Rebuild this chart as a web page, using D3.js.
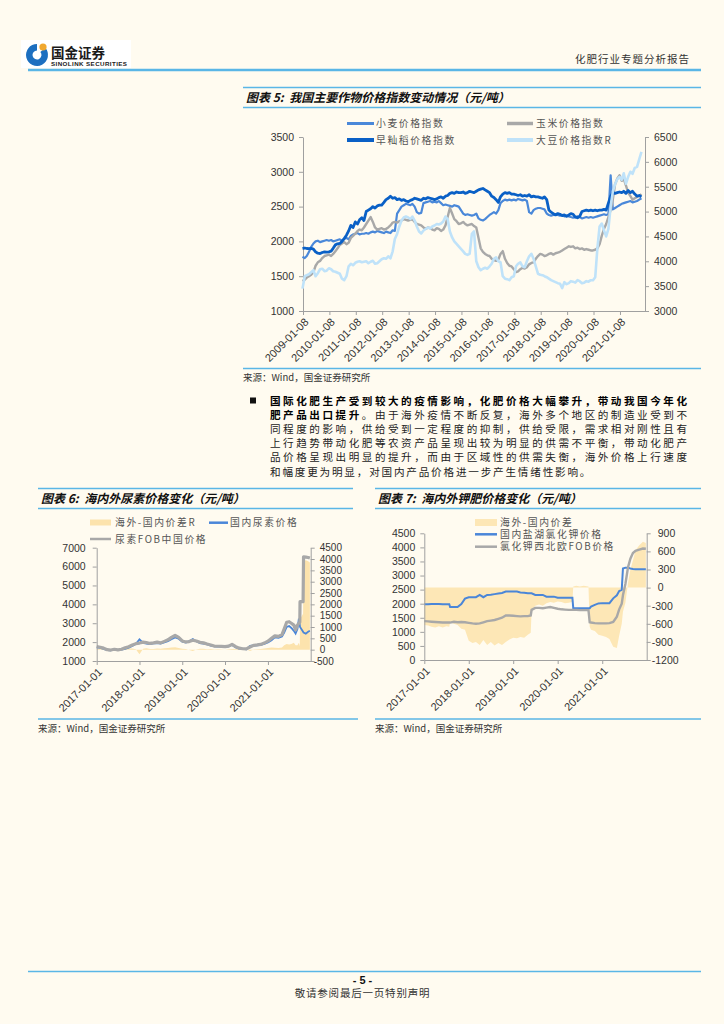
<!DOCTYPE html>
<html lang="zh">
<head>
<meta charset="UTF-8">
<title>化肥行业专题分析报告</title>
<script src="https://cdnjs.cloudflare.com/ajax/libs/d3/7.8.5/d3.min.js"></script>
<style>
  html, body { margin: 0; padding: 0; background: #fffbf0; }
  svg { display: block; }
</style>
</head>
<body>
<svg id="page" width="724" height="1024"></svg>
<script>
// ---------- 图表5：作物价格指数（月度） ----------
var wheat = [
  1780,1760,1790,1850,1920,1970,2000,2010,1990,2000,2010,2020,
  2010,2020,2000,2010,2020,2030,2010,2040,2050,2030,2080,2100,
  2110,2120,2100,2110,2110,2120,2110,2130,2140,2130,2150,2140,
  2130,2120,2140,2130,2120,2160,2150,2400,2450,2500,2520,2540,
  2530,2520,2540,2500,2420,2400,2410,2550,2560,2570,2580,2560,
  2570,2560,2580,2550,2520,2530,2520,2510,2500,2520,2510,2500,
  2450,2400,2380,2390,2380,2370,2380,2400,2330,2310,2300,2320,
  2350,2380,2400,2420,2400,2450,2550,2580,2600,2590,2600,2590,
  2600,2590,2610,2600,2590,2600,2580,2420,2400,2450,2470,2480,
  2480,2470,2460,2400,2380,2370,2380,2390,2380,2370,2380,2360,
  2370,2360,2350,2340,2350,2360,2350,2330,2340,2350,2340,2350,
  2340,2350,2360,2370,2380,2390,2380,2390,2950,2460,2480,2500,
  2520,2540,2550,2560,2570,2580,2560,2570,2580,2600,2620
];
var corn = [
  1430,1450,1480,1500,1520,1560,1650,1700,1720,1760,1790,1800,
  1810,1790,1820,1860,1900,1950,1970,1990,1960,1980,2050,2080,
  2110,2150,2170,2160,2200,2250,2300,2350,2280,2200,2170,2180,
  2190,2170,2180,2200,2230,2270,2280,2270,2290,2300,2320,2310,
  2300,2310,2320,2280,2250,2240,2230,2200,2180,2200,2190,2170,
  2160,2190,2180,2150,2170,2230,2350,2480,2400,2320,2290,2250,
  2260,2280,2250,2230,2240,2250,2220,2200,2050,1900,1850,1820,
  1800,1790,1750,1730,1720,1740,1820,1860,1750,1690,1650,1640,
  1600,1560,1570,1600,1620,1610,1630,1670,1690,1700,1750,1790,
  1820,1810,1790,1800,1820,1830,1810,1830,1840,1850,1870,1890,
  1910,1930,1920,1930,1900,1910,1890,1900,1880,1890,1880,1870,
  1870,1880,1900,1960,2080,2180,2250,2350,2450,2600,2820,2900,
  2950,2870,2900,2800,2700,2650,2600,2620,2640,2650,2680
];
var rice = [
  1900,1905,1898,1895,1900,1890,1850,1830,1825,1840,1850,1845,
  1850,1860,1900,1950,1965,1970,2000,2040,2090,2150,2230,2200,
  2280,2250,2310,2340,2300,2430,2450,2470,2500,2480,2510,2520,
  2520,2560,2600,2620,2650,2620,2630,2600,2610,2590,2600,2580,
  2570,2590,2600,2620,2610,2600,2590,2620,2610,2630,2620,2610,
  2600,2610,2630,2640,2620,2650,2660,2690,2700,2690,2710,2700,
  2700,2710,2690,2700,2720,2710,2700,2720,2740,2750,2760,2740,
  2720,2700,2650,2630,2600,2560,2640,2680,2700,2690,2700,2680,
  2680,2670,2660,2670,2650,2660,2650,2670,2640,2650,2640,2640,
  2630,2620,2640,2600,2450,2420,2400,2380,2400,2390,2370,2380,
  2360,2380,2400,2390,2350,2340,2360,2430,2440,2450,2440,2450,
  2440,2450,2440,2450,2450,2460,2450,2550,2650,2700,2690,2700,
  2710,2700,2720,2690,2730,2700,2720,2680,2650,2660,2640
];
var soybean = [
  3450,3700,3720,3740,3780,3820,3700,3760,3840,3850,3800,3810,
  3860,3840,3800,3790,3770,3750,3650,3620,3700,3900,3950,3920,
  3970,3990,4000,3980,3990,4000,3960,3990,4010,3950,3960,4000,
  4040,4060,4050,4100,4060,4200,4450,4550,4700,4820,4880,4900,
  4880,4850,4900,4820,4700,4600,4560,4620,4650,4680,4660,4700,
  4720,4750,4740,4760,4800,4900,4850,4600,4480,4400,4350,4300,
  4250,4200,4150,4130,4150,4550,4600,4000,3880,3820,3850,3870,
  3850,3900,3950,4050,4080,4000,3980,3700,3650,3640,3620,3680,
  3700,3900,3950,3980,3900,3880,4000,4100,4150,4050,3900,3750,
  3730,3720,3700,3680,3650,3620,3600,3580,3560,3550,3460,3580,
  3540,3560,3600,3590,3570,3620,3600,3560,3570,3600,3590,3620,
  3620,3680,4250,4700,4760,4620,4500,4650,5100,5400,5550,5650,
  5700,5640,5770,5560,5700,5800,5760,5880,5900,6050,6200
];
var months5 = d3.timeMonth.range(new Date(2009, 0, 1), new Date(2021, 11, 1));
var ticks5 = ["2009-01-08","2010-01-08","2011-01-08","2012-01-08","2013-01-08","2014-01-08",
  "2015-01-08","2016-01-08","2017-01-08","2018-01-08","2019-01-08","2020-01-08","2021-01-08"];

// ---------- 图表6：尿素 ----------
var dates6 = [
  "2017-01-01","2017-02-01","2017-03-01","2017-04-01","2017-05-01","2017-06-01","2017-07-01","2017-08-01","2017-09-01","2017-10-01","2017-11-01","2017-12-01",
  "2018-01-01","2018-02-01","2018-03-01","2018-04-01","2018-05-01","2018-06-01","2018-07-01","2018-08-01","2018-09-01","2018-10-01","2018-11-01","2018-12-01",
  "2019-01-01","2019-02-01","2019-03-01","2019-04-01","2019-05-01","2019-06-01","2019-07-01","2019-08-01","2019-09-01","2019-10-01","2019-11-01","2019-12-01",
  "2020-01-01","2020-02-01","2020-03-01","2020-04-01","2020-05-01","2020-06-01","2020-07-01","2020-08-01","2020-09-01","2020-10-01","2020-11-01","2020-12-01",
  "2021-01-01","2021-02-01","2021-03-01","2021-04-01","2021-05-01","2021-05-20","2021-06-10","2021-07-01","2021-07-20","2021-08-10","2021-08-25",
  "2021-09-10","2021-09-22","2021-09-30","2021-10-02","2021-10-28","2021-11-01","2021-11-20","2021-12-10","2021-12-25"
];
var ureaDomestic = [
  1720,1700,1640,1580,1560,1600,1580,1600,1640,1700,1800,1900,
  2150,1960,1920,1900,1930,1950,1920,1980,2050,2150,2250,2180,
  2020,1980,2050,2160,2050,1950,1920,1880,1820,1780,1760,1760,
  1760,1770,1850,1720,1650,1640,1620,1800,1820,1830,1850,1900,
  1980,2100,2250,2230,2300,2500,2800,2850,2750,2600,2450,
  2700,3250,2900,2800,2550,2500,2450,2550,2600
];
var ureaFob = [
  1760,1730,1680,1600,1580,1620,1590,1620,1700,1760,1850,1920,
  1950,2000,1980,1930,1960,2000,1960,2040,2120,2250,2360,2250,
  2060,2010,2030,2100,2060,1990,1960,1900,1850,1790,1780,1770,
  1760,1790,1880,1760,1680,1650,1640,1740,1830,1850,1880,1950,
  2050,2200,2330,2300,2400,2700,3050,3080,3000,2900,2650,
  2900,3000,3050,4140,4140,6520,6500,6480,6450
];
var ureaSpread = [
  40,30,40,20,20,20,10,20,60,60,50,20,
  -200,40,60,30,30,50,40,60,70,100,110,70,
  40,30,-20,-60,10,40,40,20,30,10,20,10,
  0,20,30,40,30,10,20,-60,10,20,30,50,
  70,100,80,70,100,200,250,230,250,300,200,
  200,300,150,1340,1590,3900,3950,3900,3850
];

// ---------- 图表7：钾肥 ----------
var dates7 = [
  "2017-01-01","2017-02-01","2017-03-01","2017-04-01","2017-05-01","2017-06-01","2017-07-01","2017-07-25","2017-08-01","2017-09-01","2017-10-01","2017-11-01","2017-12-01",
  "2018-01-01","2018-02-01","2018-03-01","2018-04-01","2018-05-01","2018-06-01","2018-07-01","2018-08-01","2018-09-01","2018-10-01","2018-11-01","2018-12-01",
  "2019-01-01","2019-02-01","2019-03-01","2019-04-01","2019-05-01","2019-05-25","2019-06-01","2019-07-01","2019-08-01","2019-09-01","2019-10-01","2019-11-01","2019-12-01",
  "2020-01-01","2020-02-01","2020-03-01","2020-04-01","2020-05-01","2020-05-08","2020-06-01","2020-07-01","2020-08-01","2020-09-10","2020-09-20","2020-10-01","2020-11-01","2020-12-01",
  "2021-01-01","2021-02-01","2021-03-01","2021-04-01","2021-05-01","2021-05-20","2021-06-10","2021-06-20","2021-07-10","2021-08-01","2021-08-20","2021-09-10","2021-10-01","2021-11-01","2021-12-01","2021-12-25"
];
var potashDomestic = [
  1980,1980,1990,1990,1990,1980,1980,1980,1880,1880,1880,1990,2180,
  2230,2230,2230,2310,2230,2310,2320,2340,2360,2380,2430,2430,
  2430,2430,2400,2390,2370,2370,2370,2310,2310,2310,2250,2250,2250,
  2210,2210,2210,2210,2210,1840,1840,1840,1840,1840,1840,1900,1960,2010,
  2020,2020,2020,2190,2300,2450,2490,3250,3280,3280,3250,3230,3220,3220,3220,3220
];
var potashFob = [
  1380,1370,1360,1350,1340,1330,1330,1330,1330,1360,1340,1350,1340,
  1320,1300,1290,1300,1340,1380,1400,1420,1460,1500,1580,1580,
  1570,1560,1550,1560,1560,1580,1780,1850,1850,1840,1860,1880,1850,
  1820,1800,1790,1780,1780,1780,1780,1770,1770,1770,1340,1330,1310,1300,
  1300,1300,1310,1350,1540,1800,2000,2300,2700,3300,3600,3800,3880,3920,3960,3950
];
var potashSpread = [
  -620,-630,-650,-660,-640,-660,-640,-650,-580,-600,-620,-680,-700,
  -880,-920,-900,-950,-870,-950,-900,-960,-920,-950,-900,-860,
  -830,-840,-820,-830,-780,-750,-380,-300,-280,-300,-260,-240,-250,
  -230,-240,-260,-250,-240,20,30,20,30,20,-650,-700,-720,-780,
  -800,-820,-850,-980,-1000,-800,-600,-400,-250,80,300,450,620,700,760,740
];

var CN = '"Noto Sans CJK SC", "Noto Sans CJK JP", sans-serif';
var NUM = '"Liberation Sans", Arial, sans-serif';
var AXIS = '#a0a0a0';
var TXT = '#333';
var BLUE_LINE = '#5ab6e6';
var parse = d3.timeParse('%Y-%m-%d');

var svg = d3.select('#page');

// ---------- 页眉 ----------
svg.append('rect').attr('x', 21).attr('y', 40).attr('width', 110).attr('height', 28).attr('fill', '#fff');
var logo = svg.append('g').attr('transform', 'translate(37,55)');
logo.append('path')
  .attr('d', d3.arc()({innerRadius: 4.5, outerRadius: 11, startAngle: 0.85, endAngle: 2 * Math.PI}))
  .attr('fill', '#1c6fc0');
logo.append('circle').attr('cx', 6).attr('cy', -8).attr('r', 3.6).attr('fill', '#f0a830');
svg.append('text').attr('x', 51).attr('y', 58).text('国金证券')
  .attr('font-family', CN).attr('font-weight', 'bold').attr('font-size', 13.5).attr('fill', '#1a1a1a');
svg.append('text').attr('x', 51).attr('y', 66).text('SINOLINK SECURITIES')
  .attr('font-family', NUM).attr('font-weight', 'bold').attr('font-size', 6.2)
  .attr('textLength', 76).attr('fill', '#1a1a1a');
svg.append('text').attr('x', 690).attr('y', 63).attr('text-anchor', 'end').text('化肥行业专题分析报告')
  .attr('font-family', CN).attr('font-size', 10.5).attr('letter-spacing', 1).attr('fill', TXT);
svg.append('line').attr('x1', 28).attr('x2', 701).attr('y1', 70).attr('y2', 70)
  .attr('stroke', BLUE_LINE).attr('stroke-width', 2.5);

function titleBlock(x1, x2, yTop, label) {
  svg.append('line').attr('x1', x1).attr('x2', x2).attr('y1', yTop).attr('y2', yTop)
    .attr('stroke', BLUE_LINE).attr('stroke-width', 1.5);
  svg.append('line').attr('x1', x1).attr('x2', x2).attr('y1', yTop + 20).attr('y2', yTop + 20)
    .attr('stroke', BLUE_LINE).attr('stroke-width', 1.5);
  svg.append('text').attr('x', x1 + 3).attr('y', yTop + 14).text(label)
    .attr('font-family', CN).attr('font-weight', 'bold').attr('font-style', 'italic')
    .attr('font-size', 12).attr('fill', '#111').attr('xml:space', 'preserve');
}
function sourceBlock(x1, x2, y) {
  svg.append('line').attr('x1', x1).attr('x2', x2).attr('y1', y).attr('y2', y)
    .attr('stroke', BLUE_LINE).attr('stroke-width', 1.5);
  svg.append('text').attr('x', x1).attr('y', y + 12.5).text('来源：Wind，国金证券研究所')
    .attr('font-family', CN).attr('font-size', 9.5).attr('fill', TXT);
}
function styleAxis(g, fs) {
  g.attr('font-family', NUM).attr('font-size', fs);
  g.select('.domain').attr('stroke', AXIS);
  g.selectAll('.tick line').attr('stroke', AXIS);
  g.selectAll('.tick text').attr('fill', TXT);
}
function leftAxis(scale, x, ticks, size, pad, fs) {
  var g = svg.append('g').attr('transform', 'translate(' + x + ',0)')
    .call(d3.axisLeft(scale).tickValues(ticks).tickSize(size).tickPadding(pad).tickSizeOuter(0)
      .tickFormat(function (d) { return String(d); }));
  styleAxis(g, fs);
}
function rightAxis(scale, x, ticks, size, pad, fs, minusShift) {
  var g = svg.append('g').attr('transform', 'translate(' + x + ',0)')
    .call(d3.axisRight(scale).tickValues(ticks).tickSize(size).tickPadding(pad).tickSizeOuter(0)
      .tickFormat(function (d) { return String(d); }));
  styleAxis(g, fs);
  g.selectAll('.tick text').attr('x', function (d) { return d < 0 ? size + pad - minusShift : size + pad; });
}
function bottomAxis(scale, y, tickDates, fs) {
  var g = svg.append('g').attr('transform', 'translate(0,' + y + ')')
    .call(d3.axisBottom(scale).tickValues(tickDates).tickSize(4).tickSizeOuter(0)
      .tickFormat(d3.timeFormat('%Y-%m-%d')));
  styleAxis(g, fs);
  g.selectAll('.tick text').attr('y', 0).attr('dy', '0.35em')
    .attr('transform', 'translate(3,9) rotate(-45)').attr('text-anchor', 'end');
}
function legendLine(x1, x2, y, color, w) {
  svg.append('line').attr('x1', x1).attr('x2', x2).attr('y1', y).attr('y2', y)
    .attr('stroke', color).attr('stroke-width', w);
}
function legendText(x, y, t) {
  svg.append('text').attr('x', x).attr('y', y + 3.6).text(t)
    .attr('font-family', CN).attr('font-size', 9.8).attr('letter-spacing', 1.6).attr('fill', '#555');
}

// ================= 图表5 =================
titleBlock(243, 701, 87.5, '图表 5:  我国主要作物价格指数变动情况（元/吨）');
var x5 = d3.scaleTime().domain([parse('2009-01-08'), parse('2021-12-20')]).range([303, 645]);
var yL5 = d3.scaleLinear().domain([1000, 3500]).range([311, 137]);
var yR5 = d3.scaleLinear().domain([3000, 6500]).range([311, 137]);
leftAxis(yL5, 303, d3.range(1000, 3501, 500), 4, 5, 10.5);
rightAxis(yR5, 645, d3.range(3000, 6501, 500), 4, 5, 10.5, 0);
bottomAxis(x5, 311, ticks5.map(parse), 11);

function series5(values, yScale, color, width) {
  var pts = values.map(function (v, i) { return {d: months5[i], v: v}; });
  svg.append('path').datum(pts)
    .attr('d', d3.line().x(function (p) { return x5(p.d); }).y(function (p) { return yScale(p.v); }))
    .attr('fill', 'none').attr('stroke', color).attr('stroke-width', width).attr('stroke-linejoin', 'round');
}
series5(wheat, yL5, '#4a88d9', 2.2);
series5(corn, yL5, '#a8a8a8', 2.4);
series5(rice, yL5, '#0a60c6', 2.8);
series5(soybean, yR5, '#bfe2f9', 2.6);

legendLine(347, 374, 123.5, '#4a88d9', 3);
legendText(376, 123.5, '小麦价格指数');
legendLine(507, 533, 123.5, '#a8a8a8', 3.5);
legendText(536, 123.5, '玉米价格指数');
legendLine(347, 374, 140, '#0a60c6', 4);
legendText(376, 140, '早籼稻价格指数');
legendLine(507, 533, 140, '#bfe2f9', 4);
legendText(536, 140, '大豆价格指数R');

sourceBlock(243, 701, 368.5);

// ================= 正文 =================
svg.append('rect').attr('x', 250).attr('y', 397.5).attr('width', 6).attr('height', 6).attr('fill', '#111');
var para = [
  [['国际化肥生产受到较大的疫情影响，化肥价格大幅攀升，带动我国今年化', true]],
  [['肥产品出口提升', true], ['。由于海外疫情不断反复，海外多个地区的制造业受到不', false]],
  [['同程度的影响，供给受到一定程度的抑制，供给受限，需求相对刚性且有', false]],
  [['上行趋势带动化肥等农资产品呈现出较为明显的供需不平衡，带动化肥产', false]],
  [['品价格呈现出明显的提升，而由于区域性的供需失衡，海外价格上行速度', false]],
  [['和幅度更为明显，对国内产品价格进一步产生情绪性影响。', false]]
];
para.forEach(function (line, i) {
  var t = svg.append('text').attr('x', 270).attr('y', 404.6 + i * 14.2)
    .attr('font-family', CN).attr('font-size', 10.6).attr('fill', '#222');
  if (i < para.length - 1) t.attr('textLength', 417).attr('lengthAdjust', 'spacing');
  else t.attr('letter-spacing', 1.8);
  line.forEach(function (seg) {
    t.append('tspan').text(seg[0]).attr('font-weight', seg[1] ? 'bold' : 'normal')
      .attr('fill', seg[1] ? '#000' : '#222');
  });
});

// ================= 图表6 =================
titleBlock(38, 353, 488.5, '图表 6:  海内外尿素价格变化（元/吨）');
var x6 = d3.scaleTime().domain([parse('2017-01-01'), parse('2022-01-01')]).range([96.7, 310.7]);
var yL6 = d3.scaleLinear().domain([1000, 7000]).range([661, 547.7]);
var yR6 = d3.scaleLinear().domain([-500, 4500]).range([661, 547.7]);
var d6 = dates6.map(function (s, i) {
  return {d: parse(s), dom: ureaDomestic[i], fob: ureaFob[i], spr: ureaSpread[i]};
});
svg.append('path').datum(d6)
  .attr('d', d3.area().x(function (p) { return x6(p.d); }).y0(yR6(0)).y1(function (p) { return yR6(p.spr); }))
  .attr('fill', '#fce3ad');
svg.append('path').datum(d6)
  .attr('d', d3.line().x(function (p) { return x6(p.d); }).y(function (p) { return yL6(p.dom); }))
  .attr('fill', 'none').attr('stroke', '#4a86d8').attr('stroke-width', 1.8);
svg.append('path').datum(d6)
  .attr('d', d3.line().x(function (p) { return x6(p.d); }).y(function (p) { return yL6(p.fob); }))
  .attr('fill', 'none').attr('stroke', '#a8a8a8').attr('stroke-width', 3.2).attr('stroke-linejoin', 'round');
leftAxis(yL6, 96.7, d3.range(1000, 7001, 1000), 4, 7, 10.5);
rightAxis(yR6, 310.7, d3.range(-500, 4501, 500), 4, 5, 10, 6);
bottomAxis(x6, 661, ['2017-01-01', '2018-01-01', '2019-01-01', '2020-01-01', '2021-01-01'].map(parse), 11);

svg.append('rect').attr('x', 90).attr('y', 519.5).attr('width', 21).attr('height', 6).attr('fill', '#fce3ad');
legendText(115, 522.7, '海外-国内价差R');
legendLine(209, 228, 522.7, '#4a86d8', 2.5);
legendText(230, 522.7, '国内尿素价格');
legendLine(90, 111, 539, '#a8a8a8', 2.5);
legendText(115, 539, '尿素FOB中国价格');

sourceBlock(38, 358, 719);

// ================= 图表7 =================
titleBlock(375, 701, 488.5, '图表 7:  海内外钾肥价格变化（元/吨）');
var x7 = d3.scaleTime().domain([parse('2017-01-01'), parse('2022-01-01')]).range([424.3, 646.7]);
var yL7 = d3.scaleLinear().domain([0, 4500]).range([660, 533.3]);
var yR7 = d3.scaleLinear().domain([-1200, 900]).range([660, 533.3]);
var d7 = dates7.map(function (s, i) {
  return {d: parse(s), dom: potashDomestic[i], fob: potashFob[i], spr: potashSpread[i]};
});
svg.append('path').datum(d7)
  .attr('d', d3.area().x(function (p) { return x7(p.d); }).y0(yR7(0)).y1(function (p) { return yR7(p.spr); }))
  .attr('fill', '#fde7b6');
svg.append('path').datum(d7)
  .attr('d', d3.line().x(function (p) { return x7(p.d); }).y(function (p) { return yL7(p.dom); }))
  .attr('fill', 'none').attr('stroke', '#4a86d8').attr('stroke-width', 2);
svg.append('path').datum(d7)
  .attr('d', d3.line().x(function (p) { return x7(p.d); }).y(function (p) { return yL7(p.fob); }))
  .attr('fill', 'none').attr('stroke', '#a8a8a8').attr('stroke-width', 2.4);
leftAxis(yL7, 424.3, d3.range(0, 4501, 500), 4, 5, 10.5);
rightAxis(yR7, 646.7, d3.range(-1200, 901, 300), 4, 7, 10.5, 6);
bottomAxis(x7, 660, ['2017-01-01', '2018-01-01', '2019-01-01', '2020-01-01', '2021-01-01'].map(parse), 11);

svg.append('rect').attr('x', 475).attr('y', 519).attr('width', 22).attr('height', 7).attr('fill', '#fde7b6');
legendText(500, 522, '海外-国内价差');
legendLine(475, 497, 534.3, '#4a86d8', 2.5);
legendText(500, 534.3, '国内盐湖氯化钾价格');
legendLine(475, 497, 546.7, '#a8a8a8', 2.5);
legendText(500, 546.7, '氯化钾西北欧FOB价格');

sourceBlock(375, 701, 719);

// ---------- 页脚 ----------
svg.append('line').attr('x1', 28).attr('x2', 701).attr('y1', 971.5).attr('y2', 971.5)
  .attr('stroke', BLUE_LINE).attr('stroke-width', 1.5);
svg.append('text').attr('x', 362.5).attr('y', 984).attr('text-anchor', 'middle').text('- 5 -')
  .attr('font-family', NUM).attr('font-weight', 'bold').attr('font-size', 11).attr('fill', '#111');
svg.append('text').attr('x', 362.5).attr('y', 996.5).attr('text-anchor', 'middle').text('敬请参阅最后一页特别声明')
  .attr('font-family', CN).attr('font-size', 10.5).attr('letter-spacing', 0.8).attr('fill', TXT);
</script>
</body>
</html>
